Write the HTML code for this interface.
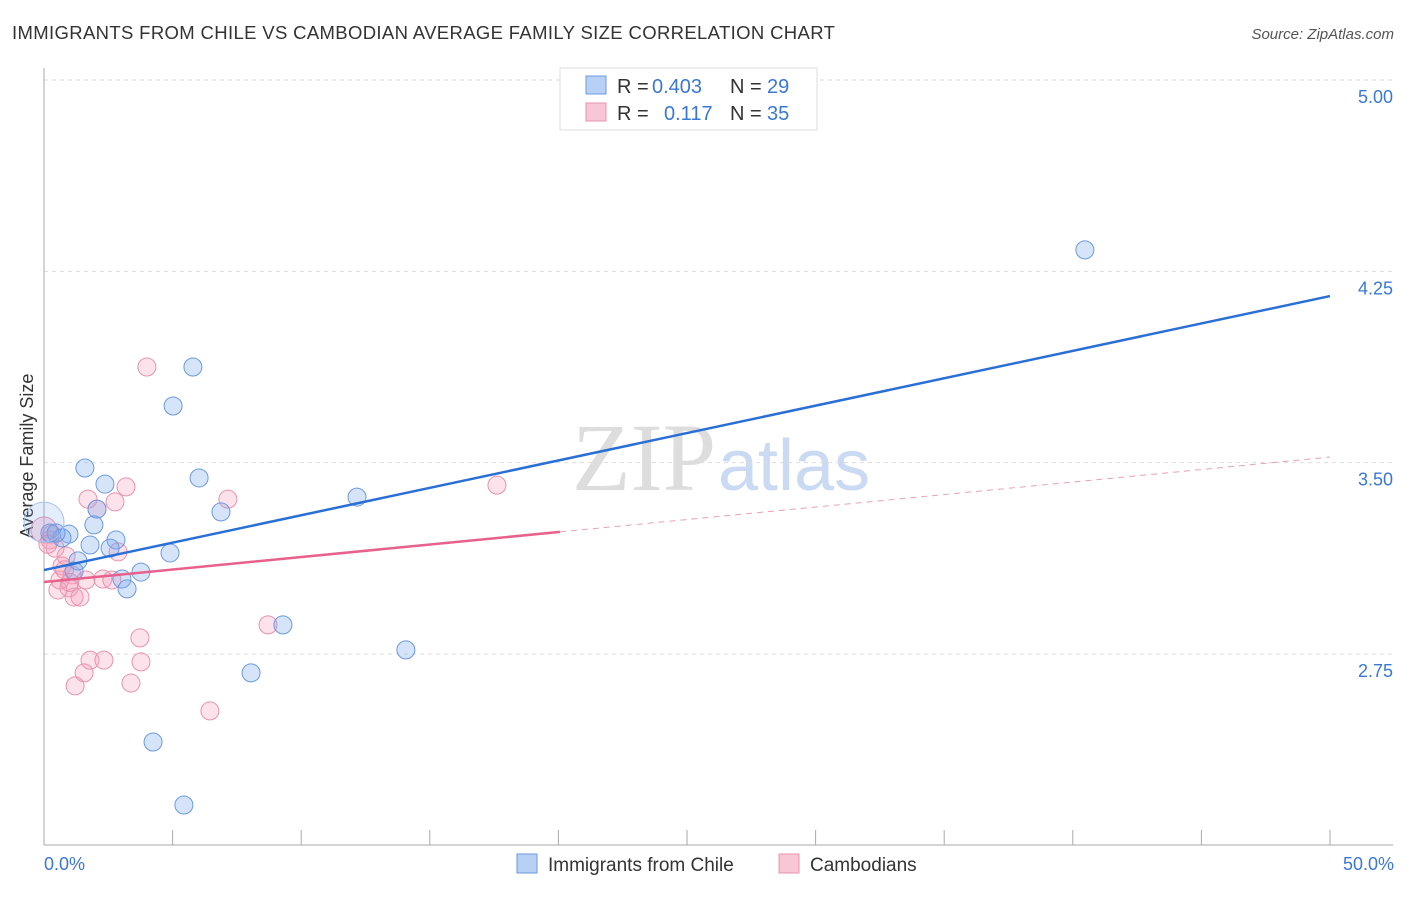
<!DOCTYPE html>
<html><head><meta charset="utf-8"><style>
body{margin:0;background:#fff;font-family:"Liberation Sans",sans-serif;}
</style></head><body>
<svg id="c" width="1406" height="892" xmlns="http://www.w3.org/2000/svg">
<text x="12" y="39" font-size="18.5" fill="#333" letter-spacing="0.35">IMMIGRANTS FROM CHILE VS CAMBODIAN AVERAGE FAMILY SIZE CORRELATION CHART</text>
<text x="1394" y="39" font-size="15" fill="#555" text-anchor="end" font-style="italic">Source: ZipAtlas.com</text>
<text x="716" y="490" font-size="96" fill="#ddd" text-anchor="end" font-family="Liberation Serif">ZIP</text>
<text x="718" y="490" font-size="72" fill="#c9daf2">atlas</text>
<g id="grid"></g>
<line x1="44" y1="68" x2="44" y2="845" stroke="#aaa"/>
<line x1="44" y1="845" x2="1393" y2="845" stroke="#aaa"/>
<text x="33" y="456" font-size="18" fill="#333" text-anchor="middle" transform="rotate(-90 33 456)">Average Family Size</text>
<text x="44" y="870" font-size="18" fill="#3a78d6">0.0%</text>
<text x="1394" y="870" font-size="18" fill="#3a78d6" text-anchor="end">50.0%</text>
<g id="pts"></g>
<g id="lines"></g>
<g font-size="20">
<rect x="560" y="68" width="257" height="62" fill="#fff" stroke="#ddd"/>
<rect x="586" y="76" width="20" height="18" fill="#b8d0f5" stroke="#6b9ae0"/>
<rect x="586" y="103" width="20" height="18" fill="#f9c6d6" stroke="#ea93ae"/>
<text x="617" y="93" fill="#333">R =</text>
<text x="652" y="93" fill="#3a78d6">0.403</text>
<text x="730" y="93" fill="#333">N =</text>
<text x="767" y="93" fill="#3a78d6">29</text>
<text x="617" y="120" fill="#333">R =</text>
<text x="664" y="120" fill="#3a78d6">0.117</text>
<text x="730" y="120" fill="#333">N =</text>
<text x="767" y="120" fill="#3a78d6">35</text>
</g>
<g>
<rect x="517" y="854" width="20" height="19" fill="#b8d0f5" stroke="#6b9ae0"/>
<text x="548" y="871" font-size="19" fill="#333">Immigrants from Chile</text>
<rect x="779" y="854" width="20" height="19" fill="#f9c6d6" stroke="#ea93ae"/>
<text x="810" y="871" font-size="19" fill="#333">Cambodians</text>
</g>
</svg>
<script>
const yTicks=[5.00,4.25,3.50,2.75];
const xTicks=[0,5,10,15,20,25,30,35,40,45,50];
const chileX=[40.47,5.79,5.02,1.59,6.03,2.37,12.17,6.88,2.06,1.94,0.97,0.70,0.47,1.79,2.80,2.57,4.90,1.32,1.17,3.77,3.03,3.23,9.29,14.07,8.05,4.24,5.44,0.23,0];
const chileY=[4.334,3.875,3.722,3.479,3.440,3.416,3.365,3.307,3.318,3.256,3.220,3.205,3.224,3.177,3.197,3.165,3.146,3.115,3.075,3.071,3.044,3.005,2.864,2.766,2.676,2.405,2.158,3.224,3.267];
const cambX=[4.00,3.19,1.71,2.76,7.15,2.06,17.61,0,0.23,0.43,0.86,0.70,2.88,1.09,0.62,1.63,2.29,2.64,0.97,0.54,1.17,1.40,3.73,8.71,1.79,2.33,3.77,1.56,1.21,3.38,6.45,0.3,0.15,0.8,1.0];
const cambY=[3.875,3.405,3.357,3.346,3.357,3.318,3.412,3.236,3.197,3.165,3.134,3.095,3.150,3.060,3.040,3.040,3.044,3.040,3.009,3.001,2.973,2.973,2.813,2.864,2.726,2.726,2.719,2.676,2.625,2.636,2.527,3.22,3.18,3.08,3.03];
const chileTrend=[3.079,4.153];
const cambTrend=[3.032,3.522];
const cambSolidEnd=20.06;
const X=v=>44+v*25.72, Y=v=>80+(5-v)*255.1;
const NS='http://www.w3.org/2000/svg';
function mk(parent,tag,attrs){const e=document.createElementNS(NS,tag);for(const k in attrs)e.setAttribute(k,attrs[k]);document.getElementById(parent).appendChild(e);return e;}
yTicks.forEach(t=>{
 const l=mk('grid','line',{x1:44,x2:1393,y1:Y(t),y2:Y(t),stroke:'#ddd','stroke-dasharray':'4,4'});
 
 
 const tx=mk('grid','text',{x:1393,y:Y(t)+23,'font-size':18,fill:'#3a78d6','text-anchor':'end'});
 tx.textContent=t.toFixed(2);
 
 
});
xTicks.forEach(t=>{
 const l=mk('grid','line',{x1:X(t),x2:X(t),y1:830,y2:845,stroke:'#aaa'});
 
 
});
cambX.forEach((v,i)=>{
 const c=mk('pts','circle',{cx:X(v),cy:Y(cambY[i]),r:i==7?13:9,fill:'rgba(244,160,188,0.3)',stroke:'#ea93ae','stroke-width':1});
 
 
});
chileX.forEach((v,i)=>{
 const big=i==28;
 const c=mk('pts','circle',{cx:X(v),cy:Y(chileY[i]),r:big?20:9,fill:big?'rgba(120,165,235,0.2)':'rgba(120,165,235,0.3)',stroke:big?'#a9c3ee':'#6b9ae0','stroke-width':1});
 
 
});
const b=mk('lines','line',{x1:X(0),y1:Y(chileTrend[0]),x2:X(50),y2:Y(chileTrend[1]),stroke:'#2a6fd6','stroke-width':2.5});


const pe=cambTrend[0]+(cambTrend[1]-cambTrend[0])*cambSolidEnd/50;
const p=mk('lines','line',{x1:X(0),y1:Y(cambTrend[0]),x2:X(cambSolidEnd),y2:Y(pe),stroke:'#e8608c','stroke-width':2.5});


const pd=mk('lines','line',{x1:X(cambSolidEnd),y1:Y(pe),x2:X(50),y2:Y(cambTrend[1]),stroke:'#e8a0b8','stroke-width':1,'stroke-dasharray':'6,5'});


</script>
</body></html>
